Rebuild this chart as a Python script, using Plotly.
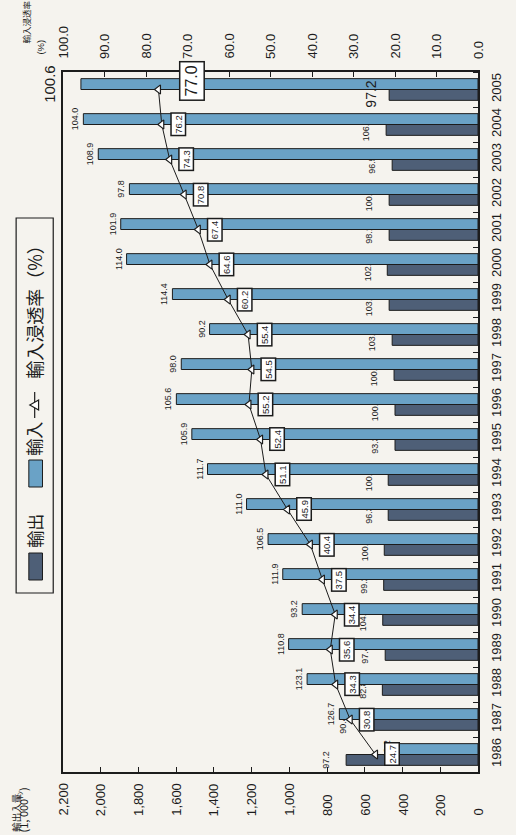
import plotly.graph_objects as go

# ---- data -------------------------------------------------------------
years = [1986, 1987, 1988, 1989, 1990, 1991, 1992, 1993, 1994, 1995,
         1996, 1997, 1998, 1999, 2000, 2001, 2002, 2003, 2004, 2005]

# export / import volume (1,000 t)
exports = [699, 611, 507, 492, 505, 500, 497, 476, 476, 440,
           440, 445, 455, 471, 481, 471, 471, 455, 487, 471]
imports = [440, 735, 906, 1004, 932, 1035, 1113, 1227, 1434, 1517,
           1599, 1573, 1423, 1620, 1863, 1894, 1848, 2013, 2092, 2105]

# import penetration ratio (%)
penetration = [24.7, 30.8, 34.3, 35.6, 34.4, 37.5, 40.4, 45.9, 51.1, 52.4,
               55.2, 54.5, 55.4, 60.2, 64.6, 67.4, 70.8, 74.3, 76.2, 77.0]

# year-on-year ratios printed beside the bars (%)
export_yoy = ["97.2", "90.4", "82.8", "97.4", "104.2", "99.2", "100.4", "96.3", "100.9", "93.3",
              "100.7", "100.3", "103.1", "103.6", "102.4", "98.1", "100.2", "96.5", "106.9", "97.2"]
import_yoy = ["92.2", "126.7", "123.1", "110.8", "93.2", "111.9", "106.5", "111.0", "111.7", "105.9",
              "105.6", "98.0", "90.2", "114.4", "114.0", "101.9", "97.8", "108.9", "104.0", "100.6"]

volume_ticks = [0, 200, 400, 600, 800, 1000, 1200, 1400, 1600, 1800, 2000, 2200]
volume_tick_text = ["0", "200", "400", "600", "800", "1,000", "1,200",
                    "1,400", "1,600", "1,800", "2,000", "2,200"]
pct_ticks = [0, 10, 20, 30, 40, 50, 60, 70, 80, 90, 100]
pct_tick_text = ["0.0", "10.0", "20.0", "30.0", "40.0", "50.0",
                 "60.0", "70.0", "80.0", "90.0", "100.0"]

# ---- styling ----------------------------------------------------------
W, H = 516, 835
PLOT_L, PLOT_R, PLOT_T, PLOT_B = 63, 488, 72, 772
BG = "#f5f3ee"
INK = "#1c1c1c"
DARK = "#4e5f77"
LIGHT = "#6aa2c6"
FONT = "Liberation Sans, Arial, sans-serif"
CJK = "Noto Sans CJK JP, sans-serif"


def px(x):
    return (x - PLOT_L) / (PLOT_R - PLOT_L)


def py(y):
    return (PLOT_B - y) / (PLOT_B - PLOT_T)


def pushed(label):
    # an empty second line keeps the label clear of the bar end
    return label + "<br>&nbsp;"


# the latest year's export ratio is printed large, above the import bar
export_text = [pushed(t) for t in export_yoy[:-1]] + [""]
import_text = import_yoy[:-1] + [pushed(import_yoy[-1])]
import_sizes = [9] * (len(years) - 1) + [15]

# category boundaries for the year axis ticks
year_edges = [y - 0.5 for y in years] + [years[-1] + 0.5]

fig = go.Figure()

fig.add_trace(go.Bar(
    name="輸出", y=years, x=exports, orientation="h",
    marker=dict(color=DARK, line=dict(color=INK, width=1)),
    text=export_text, textposition="outside", textangle=-90,
    textfont=dict(size=9, color=INK, family=FONT),
    constraintext="none", cliponaxis=False, hoverinfo="skip",
))
fig.add_trace(go.Bar(
    name="輸入", y=years, x=imports, orientation="h",
    marker=dict(color=LIGHT, line=dict(color=INK, width=1)),
    text=import_text, textposition="outside", textangle=-90,
    textfont=dict(size=import_sizes, color=INK, family=FONT),
    constraintext="none", cliponaxis=False, hoverinfo="skip",
))
fig.add_trace(go.Scatter(
    name="輸入浸透率(%)", x=penetration, y=years, xaxis="x2", yaxis="y",
    mode="lines+markers",
    line=dict(color=INK, width=1),
    marker=dict(symbol="triangle-left", size=8, color="white",
                line=dict(color=INK, width=1.2)),
    cliponaxis=False, hoverinfo="skip",
))

annotations = [
    dict(x=exports[-1], xref="x", y=years[-1], yref="y", text=export_yoy[-1],
         xanchor="center", yanchor="middle", xshift=-19, yshift=-5,
         textangle=-90, showarrow=False,
         font=dict(size=14, color=INK, family=FONT)),
]

# boxed penetration values beside each marker
for i, (yr, v) in enumerate(zip(years, penetration)):
    last = i == len(years) - 1
    annotations.append(dict(
        x=v, xref="x2", y=yr, yref="y", text=f"{v:.1f}", showarrow=False,
        xanchor="center", yanchor="middle",
        textangle=-90, xshift=33 if last else 16, yshift=9 if last else 0,
        font=dict(size=16 if last else 9.5, color=INK, family=FONT),
        bgcolor="white", bordercolor=INK, borderwidth=1.5,
        borderpad=3 if last else 1,
    ))

# value axis labels (bottom)
for v, t in zip(volume_ticks, volume_tick_text):
    annotations.append(dict(
        x=v, xref="x", y=0, yref="paper", xanchor="center", yanchor="bottom",
        yshift=-46, text=t, textangle=-90, showarrow=False,
        font=dict(size=13, color=INK, family=FONT),
    ))

# penetration axis labels (top)
for v, t in zip(pct_ticks, pct_tick_text):
    annotations.append(dict(
        x=v, xref="x2", y=1, yref="paper", xanchor="center", yanchor="bottom",
        yshift=11, text=t, textangle=-90, showarrow=False,
        font=dict(size=13, color=INK, family=FONT),
    ))


def note(x, y, text, size, family=CJK, yanchor="middle"):
    return dict(x=px(x), y=py(y), xref="paper", yref="paper",
                xanchor="center", yanchor=yanchor, text=text, textangle=-90,
                showarrow=False, font=dict(size=size, color=INK, family=family))


# axis titles
annotations += [
    note(25, 45, "輸入浸透率", 8.5, yanchor="bottom"),
    note(40, 47, "(%)", 9.5, family=FONT),
    note(14, 834, "輸出入量", 9.5, yanchor="bottom"),
    note(22, 834, "(1, 000<sup>ﾄﾝ</sup>)", 11, yanchor="bottom"),
]

# legend entries
annotations += [
    note(33, 531, "輸出", 17),
    note(33, 439, "輸入", 17),
    note(33, 307, "輸入浸透率（%）", 18),
]

shapes = [
    dict(type="rect", xref="paper", yref="paper", x0=px(15), x1=px(53),
         y0=py(593), y1=py(218), line=dict(color=INK, width=1.2)),
    dict(type="rect", xref="paper", yref="paper", x0=px(28), x1=px(42),
         y0=py(580), y1=py(553), fillcolor=DARK, line=dict(color=INK, width=1)),
    dict(type="rect", xref="paper", yref="paper", x0=px(28), x1=px(42),
         y0=py(487), y1=py(460), fillcolor=LIGHT, line=dict(color=INK, width=1)),
    dict(type="line", xref="paper", yref="paper", x0=px(34), x1=px(34),
         y0=py(418), y1=py(392), line=dict(color=INK, width=1.2)),
    dict(type="path", xref="paper", yref="paper",
         path=f"M {px(29)} {py(405)} L {px(38)} {py(400)} L {px(38)} {py(410)} Z",
         fillcolor="white", line=dict(color=INK, width=1.2)),
]

fig.update_layout(
    width=W, height=H,
    margin=dict(l=PLOT_L, r=W - PLOT_R, t=PLOT_T, b=H - PLOT_B, pad=0),
    paper_bgcolor=BG, plot_bgcolor=BG,
    barmode="group", bargap=0.38, bargroupgap=0,
    showlegend=False,
    font=dict(family=FONT, color=INK),
    xaxis=dict(
        range=[2200, 0], tickvals=volume_ticks, showticklabels=False,
        ticks="inside", ticklen=5, tickcolor=INK, tickwidth=1,
        showline=True, linecolor=INK, linewidth=1.5, mirror=True,
        showgrid=False, zeroline=False,
    ),
    xaxis2=dict(
        overlaying="x", side="top", anchor="y",
        range=[100, 0], tickvals=pct_ticks, showticklabels=False,
        ticks="inside", ticklen=5, tickcolor=INK, tickwidth=1,
        showline=True, linecolor=INK, linewidth=1.5,
        showgrid=False, zeroline=False,
    ),
    yaxis=dict(
        range=[years[0] - 0.5, years[-1] + 0.5],
        side="right", tickvals=years, tickangle=-90, ticks="",
        minor=dict(tickvals=year_edges, ticks="inside", ticklen=5,
                   tickcolor=INK, tickwidth=1, showgrid=False),
        tickfont=dict(size=13, color=INK, family=FONT),
        ticklabelstandoff=6,
        showline=True, linecolor=INK, linewidth=1.5, mirror=True,
        showgrid=False, zeroline=False,
    ),
    annotations=annotations,
    shapes=shapes,
)

fig.write_html("out.html")
